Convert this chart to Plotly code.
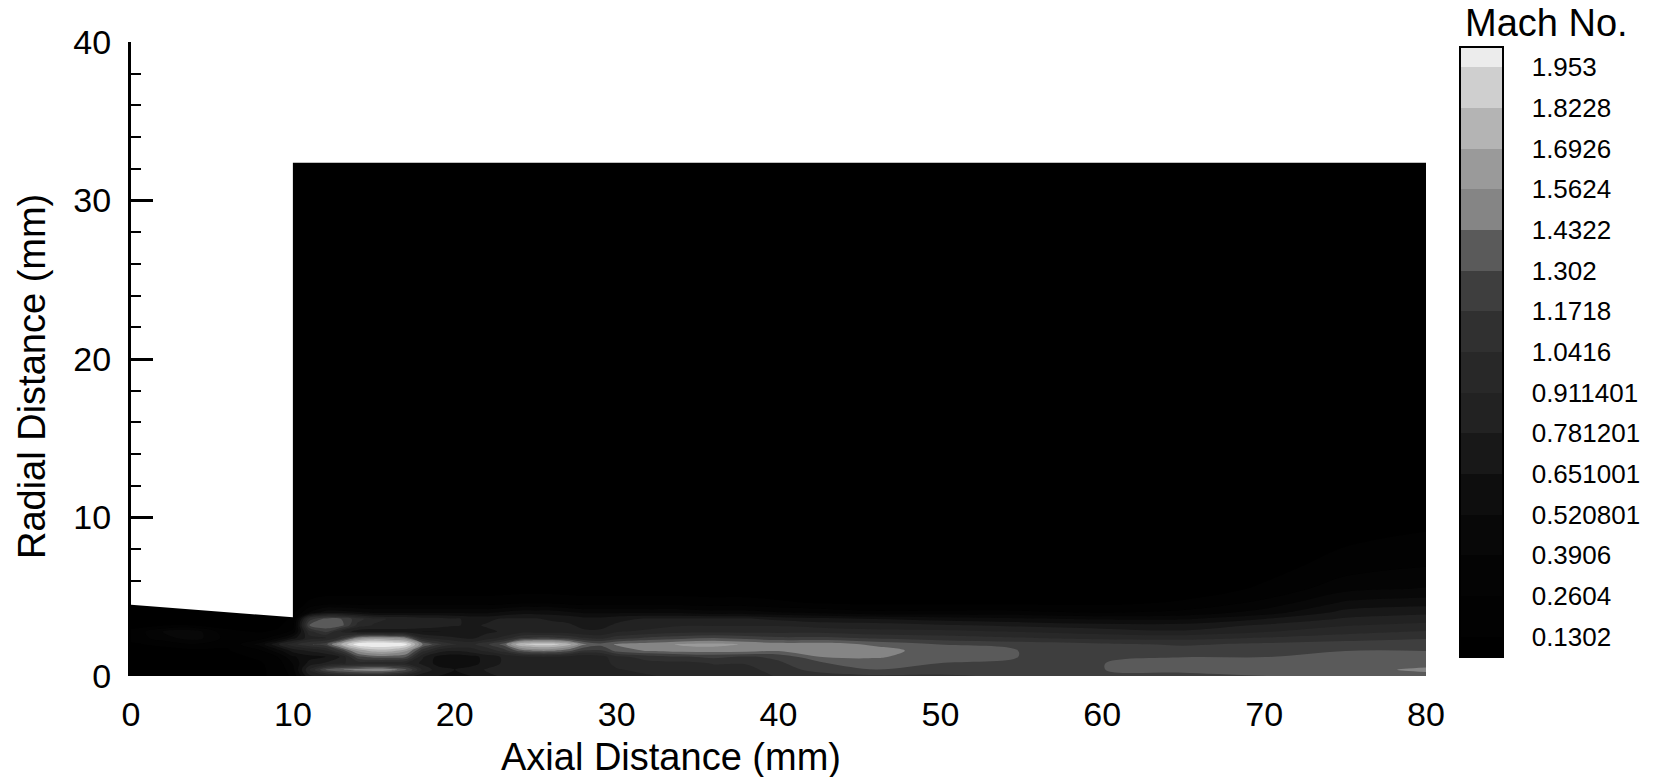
import plotly.graph_objects as go

# ---------------- data ----------------
axial_mm = [0, 2, 4, 6, 8, 9, 10, 11, 12, 13, 14, 15, 16, 17, 18, 19, 20, 21, 22, 23, 24,
            25, 26, 27, 28, 29, 30, 32, 34, 36, 38, 40, 43, 46, 50, 55, 60, 65, 70, 75, 80]
radial_mm = [0, 0.4, 0.8, 1.2, 1.6, 2.0, 2.4, 2.8, 3.2, 3.6, 4.0, 4.6, 5.5, 7.0, 10.0, 20.0, 32.4]

# Mach number, one row per radial station (columns follow axial_mm)
mach = [
    # y = 0
    [0.10, 0.10, 0.10, 0.10, 0.12, 0.15, 0.30, 0.75, 0.85, 0.95, 1.00, 1.00, 0.95, 0.85, 0.70, 0.65,
     0.60, 0.65, 0.75, 0.80, 0.85, 0.85, 0.85, 0.85, 0.80, 0.80, 0.85, 0.90, 0.95, 0.95, 1.00, 1.05,
     1.10, 1.15, 1.15, 1.20, 1.20, 1.25, 1.30, 1.35, 1.40],
    # y = 0.4
    [0.10, 0.10, 0.10, 0.10, 0.12, 0.15, 0.35, 0.90, 1.30, 1.45, 1.50, 1.55, 1.50, 1.35, 0.90, 0.70,
     0.65, 0.70, 0.80, 0.85, 0.90, 0.90, 0.90, 0.90, 0.85, 0.85, 0.90, 0.95, 0.95, 1.00, 1.00, 1.10,
     1.25, 1.30, 1.25, 1.30, 1.30, 1.35, 1.35, 1.40, 1.45],
    # y = 0.8
    [0.10, 0.10, 0.10, 0.10, 0.12, 0.18, 0.40, 0.70, 0.80, 0.90, 0.95, 0.95, 0.95, 0.90, 0.75, 0.60,
     0.55, 0.60, 0.70, 0.80, 0.85, 0.90, 0.90, 0.90, 0.85, 0.85, 0.95, 1.00, 1.00, 1.05, 1.05, 1.15,
     1.30, 1.35, 1.30, 1.30, 1.30, 1.35, 1.35, 1.35, 1.40],
    # y = 1.2
    [0.10, 0.10, 0.10, 0.10, 0.15, 0.25, 0.50, 0.60, 0.65, 0.80, 1.25, 1.35, 1.35, 1.30, 0.80, 0.60,
     0.55, 0.60, 0.70, 0.80, 0.85, 0.90, 0.90, 0.85, 0.80, 0.85, 1.00, 1.10, 1.15, 1.20, 1.15, 1.20,
     1.45, 1.45, 1.35, 1.30, 1.30, 1.30, 1.30, 1.35, 1.35],
    # y = 1.6
    [0.10, 0.10, 0.10, 0.12, 0.25, 0.45, 0.70, 0.80, 0.90, 1.20, 1.60, 1.75, 1.75, 1.60, 1.10, 0.85,
     0.80, 0.85, 0.95, 1.10, 1.35, 1.45, 1.45, 1.35, 1.15, 1.15, 1.35, 1.45, 1.50, 1.50, 1.50, 1.45,
     1.55, 1.50, 1.35, 1.30, 1.25, 1.25, 1.25, 1.30, 1.30],
    # y = 2.0
    [0.12, 0.15, 0.25, 0.15, 0.45, 0.75, 1.00, 1.15, 1.25, 1.70, 2.05, 2.10, 2.08, 2.00, 1.45, 1.20,
     1.05, 1.00, 1.15, 1.35, 1.80, 1.88, 1.88, 1.75, 1.45, 1.35, 1.45, 1.50, 1.58, 1.60, 1.55, 1.50,
     1.50, 1.40, 1.30, 1.25, 1.20, 1.15, 1.20, 1.25, 1.30],
    # y = 2.4
    [0.15, 0.35, 0.45, 0.20, 0.20, 0.35, 0.60, 0.85, 0.90, 1.10, 1.50, 1.60, 1.55, 1.45, 0.95, 0.85,
     0.80, 0.75, 0.85, 0.95, 1.15, 1.20, 1.20, 1.15, 1.05, 1.00, 1.10, 1.20, 1.25, 1.30, 1.25, 1.20,
     1.20, 1.15, 1.10, 1.05, 1.00, 1.00, 1.05, 1.10, 1.15],
    # y = 2.8
    [0.15, 0.40, 0.45, 0.15, 0.12, 0.15, 0.30, 1.00, 1.20, 0.90, 0.70, 0.70, 0.70, 0.70, 0.65, 0.65,
     0.65, 0.70, 0.75, 0.80, 0.85, 0.85, 0.85, 0.85, 0.80, 0.80, 0.90, 0.95, 1.00, 1.00, 1.00, 1.00,
     1.00, 0.95, 0.95, 0.90, 0.85, 0.80, 0.90, 1.00, 1.05],
    # y = 3.2
    [0.10, 0.12, 0.12, 0.10, 0.10, 0.10, 0.20, 1.30, 1.40, 1.35, 1.00, 0.90, 0.90, 0.90, 0.90, 0.85,
     0.80, 0.75, 0.80, 0.85, 0.85, 0.85, 0.85, 0.80, 0.75, 0.75, 0.80, 0.85, 0.90, 0.90, 0.90, 0.90,
     0.85, 0.85, 0.80, 0.75, 0.70, 0.70, 0.80, 0.90, 0.95],
    # y = 3.6
    [0.08, 0.08, 0.08, 0.08, 0.08, 0.08, 0.15, 1.10, 1.35, 1.30, 1.10, 0.95, 0.90, 0.90, 0.85, 0.85,
     0.80, 0.75, 0.75, 0.80, 0.80, 0.80, 0.75, 0.75, 0.70, 0.70, 0.75, 0.80, 0.80, 0.80, 0.80, 0.75,
     0.70, 0.65, 0.60, 0.55, 0.50, 0.50, 0.65, 0.80, 0.85],
    # y = 4.0
    [0.06, 0.06, 0.06, 0.06, 0.06, 0.06, 0.08, 0.40, 0.60, 0.60, 0.55, 0.50, 0.50, 0.50, 0.50, 0.50,
     0.50, 0.50, 0.50, 0.55, 0.60, 0.60, 0.60, 0.55, 0.50, 0.50, 0.50, 0.50, 0.50, 0.45, 0.45, 0.40,
     0.35, 0.30, 0.30, 0.30, 0.25, 0.30, 0.45, 0.70, 0.75],
    # y = 4.6
    [0.05, 0.05, 0.05, 0.05, 0.05, 0.05, 0.05, 0.15, 0.20, 0.20, 0.20, 0.20, 0.20, 0.20, 0.20, 0.20,
     0.20, 0.20, 0.20, 0.22, 0.25, 0.25, 0.25, 0.22, 0.20, 0.20, 0.20, 0.20, 0.20, 0.18, 0.18, 0.15,
     0.12, 0.10, 0.10, 0.10, 0.10, 0.15, 0.30, 0.55, 0.60],
    # y = 5.5
    [0.05, 0.05, 0.05, 0.05, 0.05, 0.05, 0.05, 0.06, 0.06, 0.06, 0.06, 0.06, 0.06, 0.06, 0.06, 0.06,
     0.06, 0.06, 0.06, 0.06, 0.06, 0.06, 0.06, 0.06, 0.06, 0.06, 0.06, 0.06, 0.06, 0.06, 0.06, 0.06,
     0.05, 0.05, 0.05, 0.05, 0.05, 0.06, 0.15, 0.35, 0.40],
    # y = 7
    [0.05, 0.05, 0.05, 0.05, 0.05, 0.05, 0.05, 0.05, 0.05, 0.05, 0.05, 0.05, 0.05, 0.05, 0.05, 0.05,
     0.05, 0.05, 0.05, 0.05, 0.05, 0.05, 0.05, 0.05, 0.05, 0.05, 0.05, 0.05, 0.05, 0.05, 0.05, 0.05,
     0.05, 0.05, 0.05, 0.05, 0.05, 0.05, 0.08, 0.18, 0.25],
    # y = 10
    [0.05, 0.05, 0.05, 0.05, 0.05, 0.05, 0.05, 0.05, 0.05, 0.05, 0.05, 0.05, 0.05, 0.05, 0.05, 0.05,
     0.05, 0.05, 0.05, 0.05, 0.05, 0.05, 0.05, 0.05, 0.05, 0.05, 0.05, 0.05, 0.05, 0.05, 0.05, 0.05,
     0.05, 0.05, 0.05, 0.05, 0.05, 0.05, 0.05, 0.05, 0.08],
    # y = 20
    [0.05, 0.05, 0.05, 0.05, 0.05, 0.05, 0.05, 0.05, 0.05, 0.05, 0.05, 0.05, 0.05, 0.05, 0.05, 0.05,
     0.05, 0.05, 0.05, 0.05, 0.05, 0.05, 0.05, 0.05, 0.05, 0.05, 0.05, 0.05, 0.05, 0.05, 0.05, 0.05,
     0.05, 0.05, 0.05, 0.05, 0.05, 0.05, 0.05, 0.05, 0.05],
    # y = 32.4
    [0.05, 0.05, 0.05, 0.05, 0.05, 0.05, 0.05, 0.05, 0.05, 0.05, 0.05, 0.05, 0.05, 0.05, 0.05, 0.05,
     0.05, 0.05, 0.05, 0.05, 0.05, 0.05, 0.05, 0.05, 0.05, 0.05, 0.05, 0.05, 0.05, 0.05, 0.05, 0.05,
     0.05, 0.05, 0.05, 0.05, 0.05, 0.05, 0.05, 0.05, 0.05],
]

level_labels = ["0.1302", "0.2604", "0.3906", "0.520801", "0.651001", "0.781201", "0.911401",
                "1.0416", "1.1718", "1.302", "1.4322", "1.5624", "1.6926", "1.8228", "1.953"]
level_values = [0.1302, 0.2604, 0.3906, 0.520801, 0.651001, 0.781201, 0.911401,
                1.0416, 1.1718, 1.302, 1.4322, 1.5624, 1.6926, 1.8228, 1.953]

# grey for each filled band, lowest (below first level) to highest (above last level)
band_greys = ["#000000", "#020202", "#040404", "#080808", "#0e0e0e", "#181818", "#222222",
              "#282828", "#303030", "#3e3e3e", "#5a5a5a", "#858585", "#9a9a9a", "#b4b4b4",
              "#cfcfcf", "#ececec"]

# nozzle outer wall (top of the inner flow region for x < 10 mm)
nozzle_wall_x = [0, 10]
nozzle_wall_y = [4.5, 3.7]

x_ticks = [0, 10, 20, 30, 40, 50, 60, 70, 80]
y_range = [0, 40]

for row in mach:
    assert len(row) == len(axial_mm)
assert len(mach) == len(radial_mm)

FONT = "Liberation Sans, Arial, Helvetica, sans-serif"

n = len(band_greys) - 1
colorscale = [[k / n, band_greys[k]] for k in range(len(band_greys))]
step = round(level_values[1] - level_values[0], 4)

fig = go.Figure()

fig.add_trace(go.Contour(
    x=axial_mm, y=radial_mm, z=mach,
    colorscale=colorscale,
    autocontour=False,
    contours=dict(start=level_values[0], end=level_values[-1], size=step,
                  coloring="fill", showlines=False),
    line=dict(width=0),
    hoverinfo="skip",
    colorbar=dict(
        thickness=43, thicknessmode="pixels",
        len=610, lenmode="pixels",
        x=1.0259, xanchor="left", xpad=0,
        y=0.9921, yanchor="top", ypad=0,
        outlinewidth=2, outlinecolor="black",
        tickmode="array", tickvals=level_values, ticktext=level_labels,
        ticks="outside", ticklen=23, tickcolor="rgba(0,0,0,0)",
        tickfont=dict(family=FONT, size=26, color="black"),
    ),
))

# white region outside the nozzle (no flow computed there)
fig.add_trace(go.Scatter(
    x=[nozzle_wall_x[0], nozzle_wall_x[1], nozzle_wall_x[1], nozzle_wall_x[0]],
    y=[nozzle_wall_y[0], nozzle_wall_y[1], y_range[1], y_range[1]],
    fill="toself", fillcolor="white", mode="lines",
    line=dict(width=0, color="white"),
    hoverinfo="skip", showlegend=False,
))

fig.update_layout(
    width=1662, height=777,
    margin=dict(l=131, r=236, t=42, b=101, pad=0),
    paper_bgcolor="white", plot_bgcolor="white",
    font=dict(family=FONT, color="black"),
    showlegend=False,
    xaxis=dict(
        range=[x_ticks[0], x_ticks[-1]], tickmode="array", tickvals=x_ticks,
        showline=False, ticks="", showgrid=False, zeroline=False,
        tickfont=dict(family=FONT, size=34, color="black"),
        ticklabelstandoff=15,
    ),
    yaxis=dict(
        range=y_range, tickmode="linear", tick0=0, dtick=10,
        showline=True, linecolor="black", linewidth=3,
        ticks="inside", ticklen=22, tickwidth=2.5, tickcolor="black",
        minor=dict(ticks="inside", ticklen=10, tickwidth=2, tickcolor="black",
                   tickmode="linear", tick0=0, dtick=2, showgrid=False),
        showgrid=False, zeroline=False,
        tickfont=dict(family=FONT, size=34, color="black"),
        ticklabelstandoff=10,
    ),
    annotations=[
        dict(text="Axial Distance (mm)", xref="paper", yref="paper",
             x=0.4170, y=-0.128, xanchor="center", yanchor="middle",
             showarrow=False, font=dict(family=FONT, size=38, color="black")),
        dict(text="Radial Distance (mm)", xref="paper", yref="paper",
             x=-0.0765, y=0.473, xanchor="center", yanchor="middle", textangle=-90,
             showarrow=False, font=dict(family=FONT, size=38, color="black")),
        dict(text="Mach No.", xref="paper", yref="paper",
             x=1.0930, y=1.030, xanchor="center", yanchor="middle",
             showarrow=False, font=dict(family=FONT, size=38, color="black")),
    ],
)

fig.write_html("out.html")
